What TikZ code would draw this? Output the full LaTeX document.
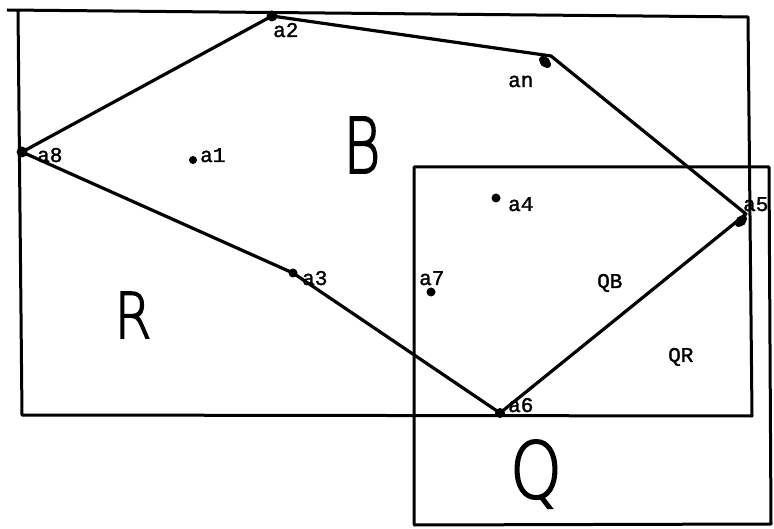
\documentclass[tikz,border=0pt]{standalone}
\usepackage{fontspec}
\setmonofont[FakeBold=1.6]{Liberation Mono}
\newfontfamily\handfont[FakeBold=2.5]{DejaVu Sans ExtraLight}
\begin{document}
\begin{tikzpicture}[x=1pt,y=-1pt,
  edge/.style={line width=3.2pt, line join=round, line cap=round},
  frame/.style={line width=3pt, line join=round},
  dot/.style={circle, fill=black, inner sep=0pt, minimum size=9pt},
  lbl/.style={font=\ttfamily\fontsize{21}{21}\selectfont, inner sep=0pt, anchor=base west},
  hand/.style={font=\handfont, inner sep=0pt}]
\useasboundingbox (0,0) rectangle (774,529);
% frames R and Q
\draw[frame] (7,10) -- (748,17) -- (752,416) -- (22,415) -- (18,10);
\draw[frame] (414,167) -- (769,167) -- (771,524) -- (414,525) -- cycle;
% points
\node[dot, minimum size=11pt] (a2) at (272,16) {};
\node[dot, minimum size=11pt] (a8) at (22,152) {};
\node[dot, minimum size=8pt] (a1) at (193,160) {};
\node[dot] (a3) at (293,273) {};
\node[dot, minimum size=10pt] (a6) at (500,413) {};
\node[dot, minimum size=10pt] (a5) at (741,221) {};
\node[dot, minimum size=10pt] (an) at (545,62) {};
\node[dot] (a4) at (496,198) {};
\node[dot] (a7) at (431,292) {};
\fill[rotate around={45:(741,221)}] (741,221) ellipse (7pt and 4.5pt);
\fill[rotate around={-45:(545,62)}] (545,62) ellipse (7pt and 4.5pt);
\coordinate (anv) at (551,56);
\coordinate (a5v) at (746,214);
% polygon
\draw[edge] (a8.center) -- (a2.center) -- (anv) -- (a5v) -- (a6.center) -- (a3.center) -- cycle;
% labels
\node[lbl] (la2) at (273,37) {a2};
\node[lbl] (la8) at (37,162) {a8};
\node[lbl] (la1) at (200,162) {a1};
\node[lbl] (lan) at (508,87) {an};
\node[lbl] (la4) at (508,211) {a4};
\node[lbl] (la5) at (743,211) {a5};
\node[lbl] (la3) at (302,285) {a3};
\node[lbl] (la7) at (419,285) {a7};
\node[lbl] (la6) at (508,412) {a6};
\node[lbl] (lqb) at (597,288) {QB};
\node[lbl] (lqr) at (668,362) {QR};
% big letters
\node[hand] (B) at (362,145) {\resizebox{37pt}{56pt}{B}};
\node[hand] (R) at (133,315) {\resizebox{37pt}{46pt}{R}};
\node[hand] (Q) at (536,474) {\resizebox{52pt}{58pt}{Q}};
\end{tikzpicture}
\end{document}
